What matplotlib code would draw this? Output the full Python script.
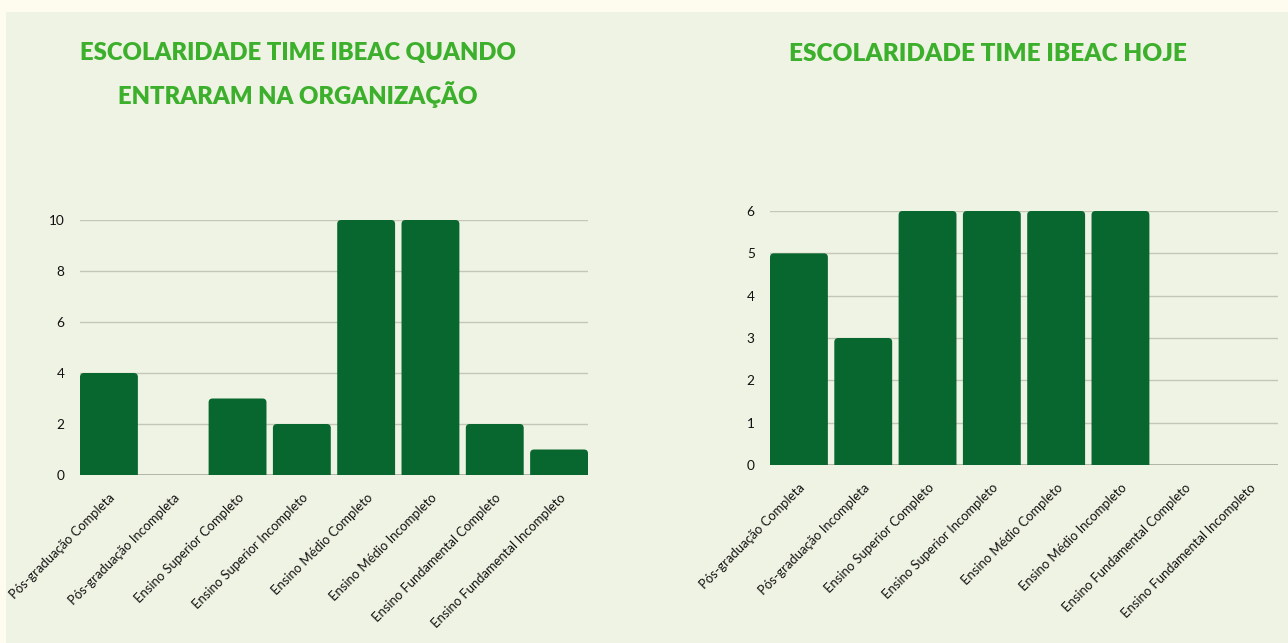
import matplotlib
matplotlib.use("Agg")
import matplotlib.pyplot as plt
from matplotlib.patches import Rectangle, PathPatch
from matplotlib.path import Path

categories = ["Pós-graduação Completa", "Pós-graduação Incompleta",
              "Ensino Superior Completo", "Ensino Superior Incompleto",
              "Ensino Médio Completo", "Ensino Médio Incompleto",
              "Ensino Fundamental Completo", "Ensino Fundamental Incompleto"]
values_entrada = [4, 0, 3, 2, 10, 10, 2, 1]
values_hoje = [5, 3, 6, 6, 6, 6, 0, 0]
yticks_entrada = [0, 2, 4, 6, 8, 10]
yticks_hoje = [0, 1, 2, 3, 4, 5, 6]
title_entrada = "ESCOLARIDADE TIME IBEAC QUANDO\nENTRARAM NA ORGANIZAÇÃO"
title_hoje = "ESCOLARIDADE TIME IBEAC HOJE"

W, H = 1288, 643
BAR = "#07672f"
GRID = "#c4c7b6"
PANEL = "#eff3e3"
OUTER = "#fefcef"
TITLE = "#3cb02c"
TXT = "#111111"

fig = plt.figure(figsize=(W / 100, H / 100), dpi=100)
fig.patch.set_facecolor(OUTER)
fig.add_artist(Rectangle((6 / W, 0), 1 - 6 / W, (H - 12) / H,
                         transform=fig.transFigure, facecolor=PANEL,
                         edgecolor="none", zorder=0))


def px_box(x0, x1, ytop, ybot):
    return [x0 / W, 1 - ybot / H, (x1 - x0) / W, (ybot - ytop) / H]


def top_rounded(x, y, w, h, rx, ry):
    verts = [(x, y), (x, y + h - ry), (x, y + h), (x + rx, y + h),
             (x + w - rx, y + h), (x + w, y + h), (x + w, y + h - ry),
             (x + w, y), (x, y)]
    codes = [Path.MOVETO, Path.LINETO, Path.CURVE3, Path.CURVE3,
             Path.LINETO, Path.CURVE3, Path.CURVE3, Path.LINETO,
             Path.CLOSEPOLY]
    return Path(verts, codes)


def draw(rect, values, yticks, ymax):
    ax = fig.add_axes(rect)
    ax.set_facecolor("none")
    n = len(values)
    xs = list(range(n))
    bars = ax.bar(xs, values, width=0.9, color=BAR)
    ax.set_xlim(-0.45, n - 1 + 0.45)
    ax.set_ylim(0, ymax)
    fig.canvas.draw()
    bb = ax.get_window_extent()
    px_per_x = bb.width / (n - 1 + 0.9)
    px_per_y = bb.height / ymax
    rx = 4 / px_per_x
    ry = 4 / px_per_y
    for b in bars:
        x, y = b.get_x(), b.get_y()
        w, h = b.get_width(), b.get_height()
        b.set_visible(False)
        if h <= 0:
            continue
        ax.add_patch(PathPatch(top_rounded(x, y, w, h, rx, ry),
                               facecolor=BAR, edgecolor="none", zorder=3))
    ax.set_yticks(yticks)
    ax.set_yticklabels([str(t) for t in yticks], fontsize=9.8, color=TXT,
                       family="Lato")
    ax.yaxis.grid(True, color=GRID, linewidth=1)
    ax.set_axisbelow(True)
    ax.axhline(0, color="#a9ab9e", linewidth=1.2, zorder=2)
    ax.set_xticks(xs)
    ax.set_xticklabels(categories, rotation=45, ha="right",
                       rotation_mode="anchor", fontsize=9.4, color=TXT,
                       family="Lato")
    ax.tick_params(axis="both", length=0)
    ax.tick_params(axis="y", pad=11)
    ax.tick_params(axis="x", pad=12)
    for s in ax.spines.values():
        s.set_visible(False)
    return ax


draw(px_box(80, 588, 220, 475), values_entrada, yticks_entrada, 10)
draw(px_box(770, 1278, 211, 465), values_hoje, yticks_hoje, 6)

fig.text(298 / W, 1 - 75 / H, title_entrada, ha="center", va="center",
         fontsize=17.2, fontweight="heavy", color=TITLE, family="Lato",
         linespacing=1.75)
fig.text(988 / W, 1 - 54 / H, title_hoje, ha="center", va="center",
         fontsize=17.6, fontweight="heavy", color=TITLE, family="Lato")

fig.savefig("out.png", dpi=100, facecolor=fig.get_facecolor())
